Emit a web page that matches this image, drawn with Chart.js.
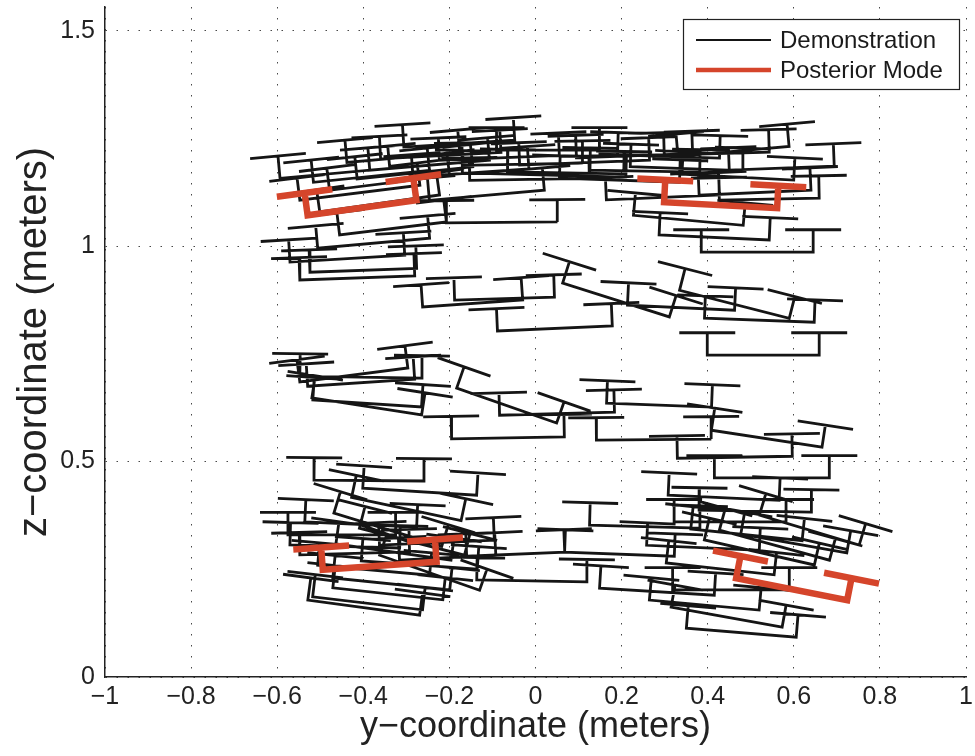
<!DOCTYPE html>
<html>
<head>
<meta charset="utf-8">
<title>Gripper poses</title>
<script src="https://cdn.jsdelivr.net/npm/chart.js@4.4.1/dist/chart.umd.min.js"></script>
<style>
  html, body { margin: 0; padding: 0; background: #fff; }
  canvas { display: block; }
</style>
</head>
<body>
<canvas id="poses" width="975" height="756"></canvas>
<script>
'use strict';

// demonstrated gripper poses: base centre (y, z in metres), tilt (deg), finger spacing (m)
let demoY = [
  -0.381, -0.307, -0.177, -0.408, -0.339, -0.246, -0.084, 0.029, -0.331, -0.078,
  -0.376, -0.437, -0.400, -0.414, -0.362, -0.014, -0.113, -0.466, 0.114,
  -0.280, -0.220, -0.150, -0.030, 0.070, 0.020,
  0.296, 0.355, 0.515, 0.309, 0.421, 0.460, 0.510, 0.543, 0.195, 0.415, 0.572, 0.254,
  0.350, 0.470, 0.230,
  -0.146, 0.045, 0.187, -0.072, 0.338, 0.462, 0.529, 0.520,
  -0.422, -0.406, -0.392, -0.391, -0.405, -0.067, 0.050, -0.064, 0.287, 0.275, 0.463, 0.537, 0.549,
  -0.387, -0.269, -0.406, -0.343, -0.287, -0.443, -0.420, -0.376, -0.335, -0.343, -0.390, -0.399, -0.229, -0.204, -0.246,
  -0.330, -0.270, -0.450, -0.300,
  -0.009, 0.253, 0.195, -0.046, 0.282,
  0.478, 0.444, 0.454, 0.452, 0.437, 0.520, 0.555, 0.636, 0.389, 0.429, 0.392, 0.510,
  0.600, 0.490
];
let demoZ = [
  1.162, 1.206, 1.238, 1.124, 1.147, 1.188, 1.205, 1.223, 1.041, 1.055,
  1.007, 0.971, 0.944, 0.926, 1.099, 1.155, 1.118, 1.169, 1.194,
  1.170, 1.210, 1.170, 1.190, 1.170, 1.165,
  1.113, 1.060, 0.986, 1.208, 1.215, 1.220, 1.124, 1.109, 1.153, 1.020, 1.181, 1.174,
  1.180, 1.160, 1.210,
  0.867, 0.809, 0.875, 0.878, 0.857, 0.865, 0.747, 0.828,
  0.701, 0.696, 0.628, 0.635, 0.683, 0.630, 0.611, 0.555, 0.631, 0.551, 0.510, 0.553, 0.462,
  0.456, 0.430, 0.354, 0.342, 0.314, 0.303, 0.287, 0.248, 0.216, 0.193, 0.171, 0.161, 0.312, 0.277, 0.242,
  0.290, 0.260, 0.330, 0.390,
  0.223, 0.349, 0.285, 0.285, 0.198,
  0.103, 0.139, 0.202, 0.360, 0.416, 0.289, 0.306, 0.341, 0.300, 0.251, 0.167, 0.385,
  0.310, 0.330
];
let demoTilt = [
  5.9, 5.1, 3.6, 7.1, 7.1, 4.8, 2.4, 0, 6.9, 0.5,
  5.1, 3.5, 2.1, 2.0, 8.1, 1.0, 5.0, 5.2, 2.2,
  6.0, 3.0, 4.0, 1.0, -1.0, -1.5,
  2.5, -5.2, 0, -1.7, 1.6, 5.1, 2.6, 1.1, -1.9, -2.6, 2.2, -1.0,
  -2.0, -3.0, 2.0,
  4.0, 2.5, -17.6, 1.7, -2.7, -14.3, 0, -2.1,
  7.4, -0.9, -8.8, -3.7, 3.7, -19.3, 1.5, 1.0, -2.2, 0.5, 1.0, -8.7, 0,
  -0.5, -3.5, -2.6, -17.0, -14.4, -1.6, 1.6, -5.1, -5.9, -6.2, -6.7, -7.6, 2.5, 3.0, -19.3,
  -8.0, -4.0, 0, -12.0,
  -1.0, -1.6, -2.1, 2.3, -3.5,
  -4.7, -10.2, 0, 0, -2.6, -12.8, -15.3, -16.7, -2.5, -6.3, -5.2, -1.0,
  -10.0, -6.0
];
let demoSpan = [
  0.271, 0.263, 0.258, 0.281, 0.281, 0.279, 0.279, 0.239, 0.250, 0.258,
  0.261, 0.267, 0.248, 0.267, 0.281, 0.278, 0.268, 0.256, 0.302,
  0.270, 0.280, 0.270, 0.280, 0.270, 0.380,
  0.263, 0.256, 0.260, 0.237, 0.244, 0.259, 0.260, 0.232, 0.279, 0.256, 0.244, 0.255,
  0.260, 0.260, 0.270,
  0.233, 0.267, 0.260, 0.232, 0.249, 0.263, 0.260, 0.255,
  0.253, 0.283, 0.258, 0.253, 0.249, 0.246, 0.267, 0.262, 0.244, 0.267, 0.267, 0.260, 0.267,
  0.255, 0.265, 0.260, 0.262, 0.252, 0.255, 0.255, 0.261, 0.273, 0.257, 0.257, 0.262, 0.267, 0.224, 0.246,
  0.270, 0.270, 0.250, 0.260,
  0.255, 0.255, 0.255, 0.228, 0.267,
  0.256, 0.262, 0.271, 0.260, 0.258, 0.262, 0.265, 0.242, 0.262, 0.252, 0.256, 0.260,
  0.250, 0.260
];

// posterior mode poses
let modeY = [-0.403, 0.430, -0.362, 0.595];
let modeZ = [1.089, 1.095, 0.258, 0.204];
let modeTilt = [7.8, -3.0, 4.0, -11.2];
let modeSpan = [0.255, 0.263, 0.265, 0.263];

let xTicks = [-1, -0.8, -0.6, -0.4, -0.2, 0, 0.2, 0.4, 0.6, 0.8, 1];
let zTicks = [0, 0.5, 1, 1.5];

const FINGER_H = 0.052;
const FINGER_L = 0.13;
const FONT = '"Liberation Sans", Arial, sans-serif';

// one gripper outline: two finger pads on stubs joined by the base, split by gaps
function gripperPoints(y, z, tilt, span) {
  let a = tilt * Math.PI / 180;
  let ux = Math.cos(a);
  let uz = Math.sin(a);
  let nx = -uz;
  let nz = ux;
  let lx = y - ux * span / 2, lz = z - uz * span / 2;
  let rx = y + ux * span / 2, rz = z + uz * span / 2;
  let flx = lx + nx * FINGER_H, flz = lz + nz * FINGER_H;
  let frx = rx + nx * FINGER_H, frz = rz + nz * FINGER_H;
  let h = FINGER_L / 2;
  return [
    {x: flx - ux * h, y: flz - uz * h}, {x: flx + ux * h, y: flz + uz * h}, {x: flx, y: null},
    {x: flx, y: flz}, {x: lx, y: lz}, {x: rx, y: rz}, {x: frx, y: frz}, {x: frx, y: null},
    {x: frx - ux * h, y: frz - uz * h}, {x: frx + ux * h, y: frz + uz * h}, {x: frx, y: null}
  ];
}

function buildSeries(ys, zs, tilts, spans) {
  let pts = [];
  for (let i = 0; i < ys.length; i++) {
    pts = pts.concat(gripperPoints(ys[i], zs[i], tilts[i], spans[i]));
  }
  return pts;
}

function tickText(v) {
  let s = Math.abs(v) < 1e-9 ? '0' : String(Math.round(v * 10) / 10);
  return s.replace('-', '\u2212');
}

// boxed legend in the upper right corner of the plot
const legendBox = {
  id: 'legendBox',
  afterDraw(chart) {
    let ctx = chart.ctx;
    let area = chart.chartArea;
    let x = area.right - 283;
    let y = area.top + 12;
    ctx.save();
    ctx.fillStyle = '#fff';
    ctx.fillRect(x, y, 276, 70);
    ctx.strokeStyle = '#222';
    ctx.lineWidth = 1.2;
    ctx.strokeRect(x + 0.5, y + 0.5, 276, 70);
    ctx.font = '24px ' + FONT;
    ctx.textBaseline = 'middle';
    chart.data.datasets.forEach(function (ds, i) {
      let ly = y + 21 + i * 30;
      ctx.strokeStyle = ds.borderColor;
      ctx.lineWidth = i === 0 ? 2 : 4.5;
      ctx.beginPath();
      ctx.moveTo(x + 13, ly);
      ctx.lineTo(x + 88, ly);
      ctx.stroke();
      ctx.fillStyle = '#1a1a1a';
      ctx.fillText(ds.label, x + 97, ly + 1);
    });
    ctx.restore();
  }
};

let ctx = document.getElementById('poses');
new Chart(ctx, {
  type: 'line',
  data: {
    datasets: [{
      label: 'Demonstration',
      data: buildSeries(demoY, demoZ, demoTilt, demoSpan),
      borderColor: '#151515',
      borderWidth: 2.8,
      order: 1
    },
    {
      label: 'Posterior Mode',
      data: buildSeries(modeY, modeZ, modeTilt, modeSpan),
      borderColor: '#d5452b',
      borderWidth: 6.5,
      order: 0
    }]
  },
  options: {
    responsive: false,
    animation: false,
    devicePixelRatio: 1,
    spanGaps: false,
    layout: { padding: { top: 7, right: 9, left: 0, bottom: 0 } },
    elements: {
      point: { radius: 0, hoverRadius: 0 },
      line: { tension: 0, borderJoinStyle: 'miter', borderCapStyle: 'butt', fill: false }
    },
    plugins: {
      legend: { display: false },
      tooltip: { enabled: false }
    },
    scales: {
      x: {
        type: 'linear',
        min: -1,
        max: 1,
        afterBuildTicks: function (scale) { scale.ticks = xTicks.map(v => ({value: v})); },
        afterFit: function (scale) {
          scale.height = 79;
          scale.paddingLeft = 0;
          scale.paddingRight = 0;
        },
        ticks: {
          callback: tickText,
          color: '#222',
          padding: 5,
          maxRotation: 0,
          font: { family: FONT, size: 25 }
        },
        grid: { color: 'rgba(40,40,40,0.85)', lineWidth: 1, drawTicks: false },
        border: { color: '#222', width: 1.5, dash: [1.5, 9.5] },
        title: {
          display: true,
          text: 'y\u2212coordinate (meters)',
          color: '#222',
          padding: { top: 0, bottom: 7 },
          font: { family: FONT, size: 36 }
        }
      },
      y: {
        type: 'linear',
        min: 0,
        max: 1.555,
        afterBuildTicks: function (scale) { scale.ticks = zTicks.map(v => ({value: v})); },
        afterFit: function (scale) {
          scale.width = 105;
          scale.paddingTop = 0;
          scale.paddingBottom = 0;
        },
        ticks: {
          callback: tickText,
          color: '#222',
          padding: 10,
          font: { family: FONT, size: 25 }
        },
        grid: { color: 'rgba(40,40,40,0.85)', lineWidth: 1, drawTicks: false },
        border: { color: '#222', width: 1.5, dash: [1.5, 9.5] },
        title: {
          display: true,
          text: 'z\u2212coordinate (meters)',
          color: '#222',
          padding: { top: 11, bottom: 0 },
          font: { family: FONT, size: 40 }
        }
      }
    }
  },
  plugins: [legendBox]
});
</script>
</body>
</html>
